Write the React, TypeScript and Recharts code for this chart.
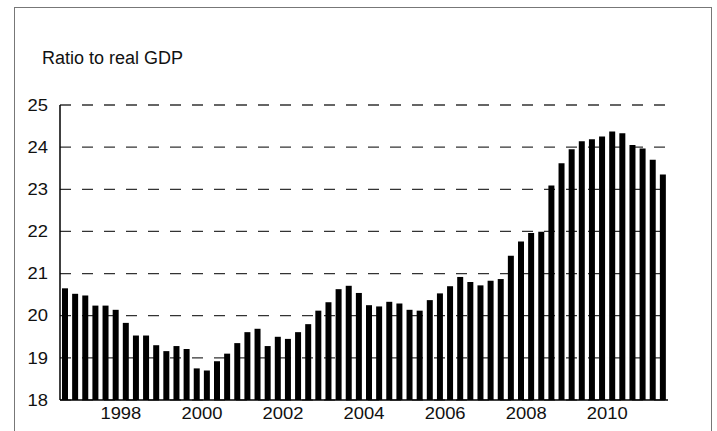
import { BarChart, Bar, XAxis, YAxis, CartesianGrid, ReferenceLine } from "recharts";

const quarters = [
  "1996Q3", "1996Q4",
  "1997Q1", "1997Q2", "1997Q3", "1997Q4",
  "1998Q1", "1998Q2", "1998Q3", "1998Q4",
  "1999Q1", "1999Q2", "1999Q3", "1999Q4",
  "2000Q1", "2000Q2", "2000Q3", "2000Q4",
  "2001Q1", "2001Q2", "2001Q3", "2001Q4",
  "2002Q1", "2002Q2", "2002Q3", "2002Q4",
  "2003Q1", "2003Q2", "2003Q3", "2003Q4",
  "2004Q1", "2004Q2", "2004Q3", "2004Q4",
  "2005Q1", "2005Q2", "2005Q3", "2005Q4",
  "2006Q1", "2006Q2", "2006Q3", "2006Q4",
  "2007Q1", "2007Q2", "2007Q3", "2007Q4",
  "2008Q1", "2008Q2", "2008Q3", "2008Q4",
  "2009Q1", "2009Q2", "2009Q3", "2009Q4",
  "2010Q1", "2010Q2", "2010Q3", "2010Q4",
  "2011Q1", "2011Q2",
];

const ratio = [
  20.65, 20.52,
  20.48, 20.24, 20.24, 20.14,
  19.83, 19.53, 19.53, 19.3,
  19.16, 19.28, 19.21, 18.75,
  18.7, 18.92, 19.1, 19.35,
  19.61, 19.69, 19.28, 19.5,
  19.45, 19.61, 19.8, 20.12,
  20.32, 20.63, 20.71, 20.54,
  20.25, 20.22, 20.33, 20.29,
  20.14, 20.12, 20.37, 20.53,
  20.7, 20.92, 20.8, 20.72,
  20.83, 20.87, 21.42, 21.76,
  21.96, 21.99, 23.09, 23.62,
  23.95, 24.14, 24.19, 24.25,
  24.37, 24.33, 24.05, 23.97,
  23.7, 23.35,
];

const xTicks = ["1998Q1", "2000Q1", "2002Q1", "2004Q1", "2006Q1", "2008Q1", "2010Q1"];
const yTicks = [18, 19, 20, 21, 22, 23, 24, 25];

const data = quarters.map((q, i) => ({ q, value: ratio[i] }));

const FONT = "'Liberation Sans', Arial, sans-serif";

// year label sits on the boundary before Q1, not the bar centre
function YearTick({ x, y, payload }: any) {
  return (
    <text
      transform={`translate(${x - 5},${y}) scale(1.15,1)`}
      dy="0.71em"
      textAnchor="middle"
      fontSize={16}
      fontFamily={FONT}
      fill="#111"
    >
      {payload.value.slice(0, 4)}
    </text>
  );
}

function ValueTick({ x, y, payload }: any) {
  return (
    <text
      transform={`translate(${x},${y}) scale(1.15,1)`}
      dy="0.36em"
      textAnchor="end"
      fontSize={16}
      fontFamily={FONT}
      fill="#111"
    >
      {payload.value}
    </text>
  );
}

export default function App() {
  return (
    <div
      style={{
        position: "absolute",
        left: 0,
        top: 0,
        width: 717,
        height: 431,
        overflow: "hidden",
        background: "#fff",
      }}
    >
      <div
        style={{
          position: "absolute",
          left: 14,
          top: 7,
          width: 696,
          height: 460,
          border: "1px solid #777",
        }}
      />
      <div
        style={{
          position: "absolute",
          left: 42,
          top: 48,
          fontFamily: FONT,
          fontSize: 18,
          color: "#111",
          whiteSpace: "nowrap",
        }}
      >
        Ratio to real GDP
      </div>
      <div style={{ position: "absolute", left: 0, top: 0 }}>
        <BarChart
          width={717}
          height={431}
          data={data}
          margin={{ top: 105, right: 49, bottom: 6, left: 13 }}
          barSize={6}
        >
          <CartesianGrid
            vertical={false}
            horizontalValues={yTicks}
            stroke="#333"
            strokeWidth={1.2}
            strokeDasharray="11 11"
          />
          <XAxis
            dataKey="q"
            ticks={xTicks}
            interval={0}
            tick={<YearTick />}
            tickLine={false}
            axisLine={{ stroke: "#000", strokeWidth: 1.5 }}
            height={25}
          />
          <XAxis
            xAxisId="top"
            orientation="top"
            dataKey="q"
            tick={false}
            tickLine={false}
            axisLine={{ stroke: "#999" }}
            height={0}
          />
          <YAxis
            domain={[18, 25]}
            ticks={yTicks}
            interval={0}
            tick={<ValueTick />}
            tickLine={false}
            tickMargin={6}
            axisLine={{ stroke: "#000", strokeWidth: 1.5 }}
            width={47}
          />
          <YAxis
            yAxisId="right"
            orientation="right"
            domain={[18, 25]}
            tick={false}
            tickLine={false}
            axisLine={{ stroke: "#888" }}
            width={0}
          />
          <Bar dataKey="value" fill="#000" isAnimationActive={false} />
          <ReferenceLine y={25} stroke="#333" strokeWidth={1.2} strokeDasharray="11 11" />
        </BarChart>
      </div>
    </div>
  );
}
